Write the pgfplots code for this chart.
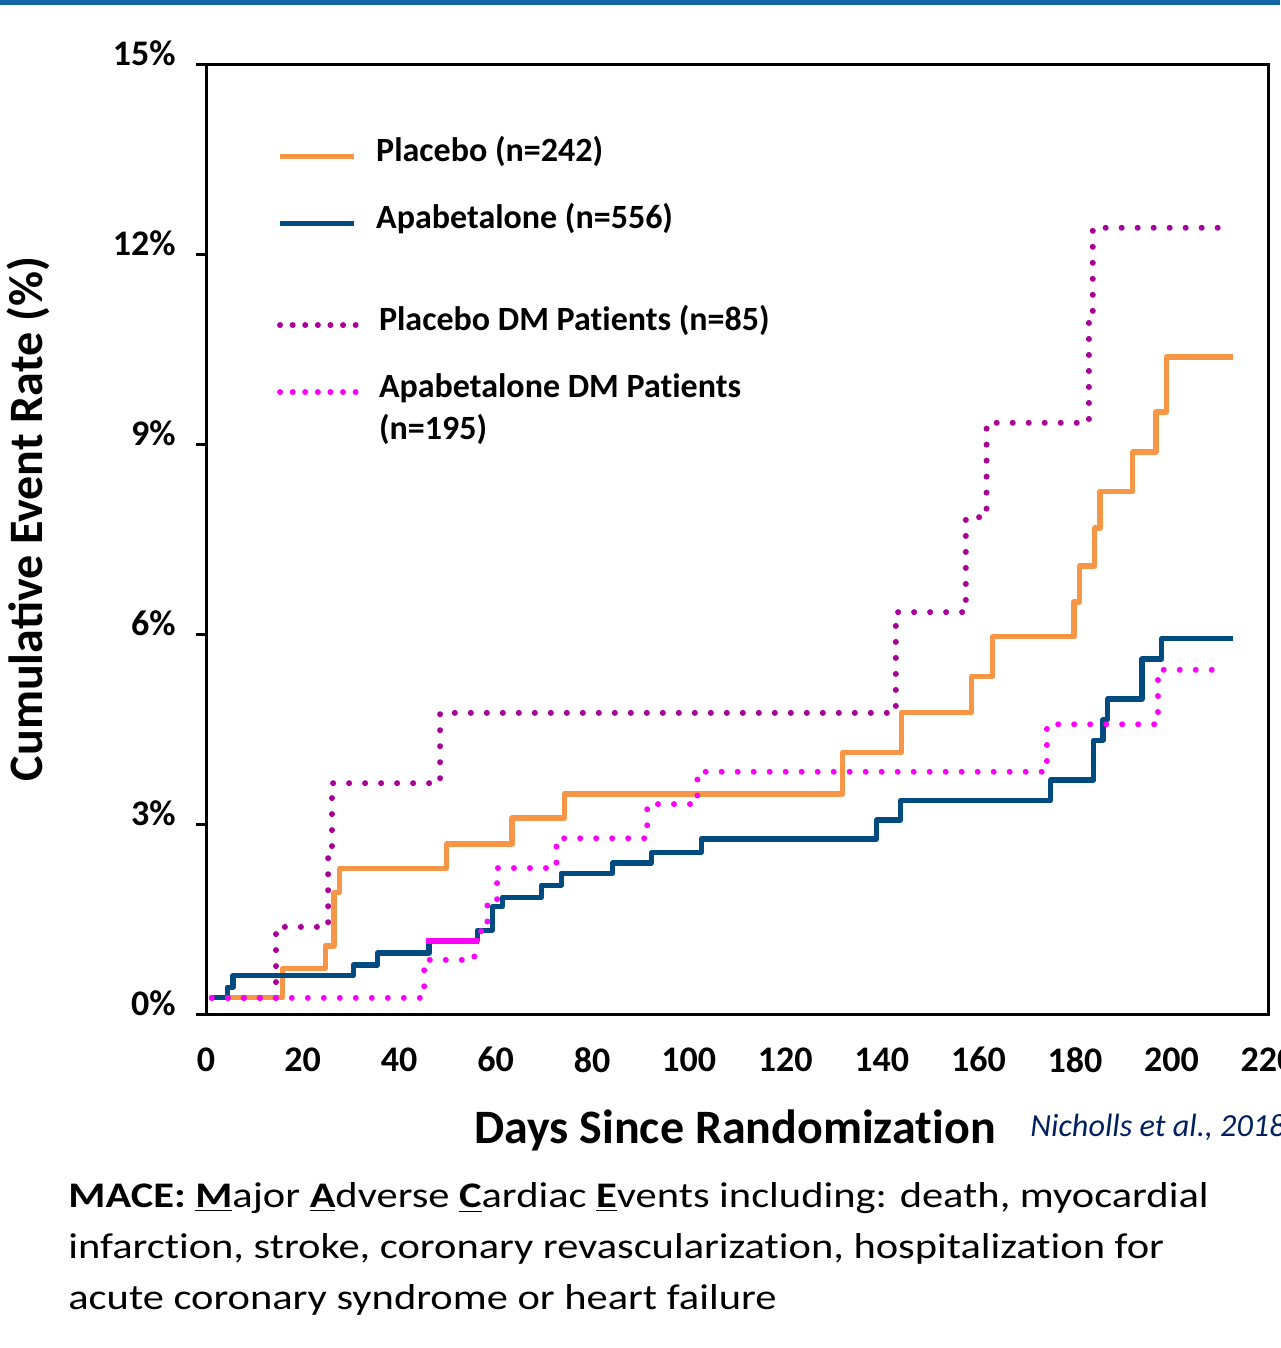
\documentclass[border=0pt]{standalone}
\usepackage{fontspec}
\setmainfont{Carlito}
\usepackage{pgfplots}
\pgfplotsset{compat=1.18}
\definecolor{cplac}{RGB}{247,150,70}
\definecolor{capab}{RGB}{0,76,128}
\definecolor{cpdm}{RGB}{170,0,153}
\definecolor{cadm}{RGB}{255,0,255}
\definecolor{cbar}{RGB}{16,104,168}
\definecolor{ccite}{RGB}{0,32,96}
% break the t-i ligature of Carlito
\newcommand{\ti}{t\kern0pt i}

\pgfplotsset{
  base/.style={scale only axis, width=531pt, height=475pt, at={(103pt,166.5pt)}, anchor=south west,
    xmin=0, xmax=220, ymin=0, ymax=15, const plot,
    legend cell align=left,
    legend style={draw=none, fill=none, inner sep=0pt, outer sep=0pt, row sep=14.5pt, column sep=10pt,
      nodes={inner sep=0pt, text height=12pt, text depth=7pt, font=\bfseries\fontsize{17}{20}\selectfont}}},
  dots/.style={line width=3pt, line cap=round, dash pattern=on 0pt off 8pt},
  solid line/.style={line width=2.6pt, line join=round}
}
\newcommand{\capfont}{\fontsize{18}{18}\selectfont}

\begin{document}
\begin{tikzpicture}
\fill[cbar] (0pt,671.5pt) rectangle (640pt,674pt);

\begin{axis}[base,
  axis line style={line width=1.5pt},
  xtick={0,20,...,220}, xticklabels={0,20,40,60,80,100,120,140,160,180,200,220},
  ytick={0,3,...,15}, yticklabels={0\%,3\%,6\%,9\%,12\%,15\%},
  ticklabel style={font=\bfseries\fontsize{18}{18}\selectfont, inner sep=0pt},
  xticklabel style={yshift=-11pt},
  yticklabel style={anchor=east, xshift=-10pt, yshift=6pt},
  tick align=outside, ytick pos=left, xtick pos=bottom,
  major tick length=5pt, ytick style={line width=1.5pt, black}, xtick style={draw=none},
  xlabel={Days Since Randomiza\ti on},
  xlabel style={font=\bfseries\fontsize{24}{24}\selectfont, at={(axis description cs:0.498,-0.1357)}, anchor=base},
  legend style={at={(axis description cs:0.0669,0.8684)}, anchor=west},
  legend image code/.code={\draw[#1] (0pt,0pt) -- (37pt,0pt);}]
\addplot[cplac, solid line] coordinates {(1.2,0.27) (15.8,0.73) (24.7,1.09) (26.5,1.93) (27.6,2.31) (49.8,2.70) (63.4,3.11) (74.2,3.49) (131.9,4.15) (144.1,4.77) (158.6,5.35) (163.0,5.97) (179.8,6.52) (181.0,7.09) (184.1,7.69) (185.2,8.27) (192.0,8.89) (196.8,9.52) (199.0,10.39) (212.7,10.39)};
\addlegendentry{Placebo (n=242)}
\addplot[capab, solid line] coordinates {(1.7,0.28) (4.4,0.44) (5.6,0.62) (30.5,0.79) (35.5,0.98) (46.2,1.17) (56.2,1.34) (59.3,1.71) (61.4,1.86) (69.5,2.05) (73.6,2.24) (84.2,2.40) (92.3,2.57) (102.6,2.78) (138.9,3.08) (143.9,3.39) (175.0,3.71) (183.9,4.34) (185.8,4.66) (186.8,4.99) (193.9,5.62) (198.0,5.94) (212.7,5.94)};
\addlegendentry{Apabetalone (n=556)}
\end{axis}

\begin{axis}[base, hide axis,
  legend style={at={(axis description cs:0.0669,0.691)}, anchor=west},
  legend image code/.code={\draw[#1, dash pattern=on 0pt off 6.3pt] (-1pt,0pt) -- (37pt,0pt);}]
\addplot[cpdm, dots] coordinates {(1.2,0.27) (14.5,1.39) (25.3,2.49) (26.1,3.66) (48.5,4.77) (142.9,6.36) (157.4,7.86) (161.7,9.35) (182.9,10.93) (183.7,12.43) (210.9,12.43)};
\addlegendentry{Placebo DM Pa\ti ents (n=85)}
\addplot[cadm, dots] coordinates {(1.2,0.27) (45.2,0.87) (55.6,1.17) (57.0,1.34) (58.3,1.82) (60.3,2.32) (72.6,2.79) (91.4,3.33) (101.8,3.84) (174.2,4.59) (197.2,5.45) (210.7,5.45)};
\addlegendentry{\makebox[0pt][l]{\raisebox{-21pt}{(n=195)}}Apabetalone DM Pa\ti ents}
\addplot[cadm, line width=3pt, forget plot] coordinates {(45.6,1.17) (56.6,1.17)};
\end{axis}

\node[rotate=90, anchor=base, font=\bfseries\fontsize{24}{24}\selectfont, inner sep=0pt] at (21pt,414.5pt) {Cumulative Event Rate (\%)};
\node[anchor=base west, inner sep=0pt, font=\itshape\fontsize{16.1}{16}\selectfont, text=ccite] at (515pt,105.5pt) {Nicholls et al., 2018};
\node[anchor=base west, inner sep=0pt, font=\capfont] at (34pt,70pt) {\scalebox{1.18}[1]{\textbf{MACE:} \textbf{\underline{M}}ajor \textbf{\underline{A}}dverse \textbf{\underline{C}}ardiac \textbf{\underline{E}}vents including: death, myocardial}};
\node[anchor=base west, inner sep=0pt, font=\capfont] at (34pt,44.5pt) {\scalebox{1.18}[1]{infarc\ti on, stroke, coronary revasculariza\ti on, hospitaliza\ti on for}};
\node[anchor=base west, inner sep=0pt, font=\capfont] at (34pt,19pt) {\scalebox{1.18}[1]{acute coronary syndrome or heart failure}};
\pgfresetboundingbox
\useasboundingbox (0pt,0pt) rectangle (640pt,674pt);
\end{tikzpicture}
\end{document}
